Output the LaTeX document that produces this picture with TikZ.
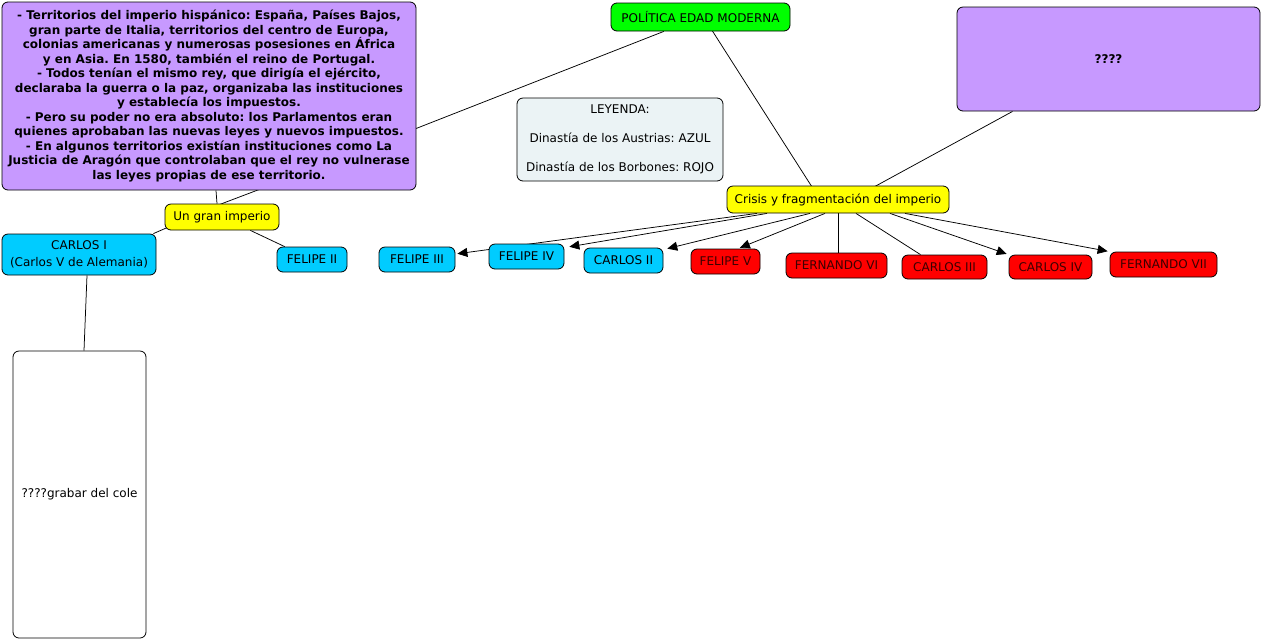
\documentclass[tikz,border=0pt]{standalone}
\usepackage{fontspec}
\setmainfont{DejaVu Sans}
\usetikzlibrary{arrows.meta,backgrounds}
\frenchspacing

\definecolor{lila}{HTML}{C799FF}
\definecolor{verde}{HTML}{00FF00}
\definecolor{amarillo}{HTML}{FFFF00}
\definecolor{azul}{HTML}{00CCFF}
\definecolor{rojo}{HTML}{FF0000}
\definecolor{textorojo}{HTML}{3C0000}
\definecolor{leyenda}{HTML}{EBF3F5}

\begin{document}
\begin{tikzpicture}[x=1pt, y=-1pt,
    concept/.style={draw, rounded corners=6pt, line width=0.8pt, inner sep=0pt,
        align=center, font=\fontsize{12}{14.5}\selectfont},
    austria/.style={concept, fill=azul, minimum height=25pt},
    borbon/.style={concept, fill=rojo, text=textorojo, minimum height=25pt},
    link/.style={line width=0.75pt},
    flecha/.style={link, -{Triangle[length=10pt,width=9pt]}, shorten >=2pt}]
    \useasboundingbox (0,0) rectangle (1262,641);

    % conceptos principales
    \node[concept, fill=verde, minimum width=179pt, minimum height=28pt] (pol) at (700.5,17) {POLÍTICA EDAD MODERNA};
    \node[concept, fill=lila, minimum width=414pt, minimum height=188pt, font=\fontsize{12}{14.5}\selectfont\bfseries] (imperio) at (209,96)
        {- Territorios del imperio hispánico: España, Países Bajos,\\
         gran parte de Italia, territorios del centro de Europa,\\
         colonias americanas y numerosas posesiones en África\\
         y en Asia. En 1580, también el reino de Portugal.\\
         - Todos tenían el mismo rey, que dirigía el ejército,\\
         declaraba la guerra o la paz, organizaba las instituciones\\
         y establecía los impuestos.\\
         - Pero su poder no era absoluto: los Parlamentos eran\\
         quienes aprobaban las nuevas leyes y nuevos impuestos.\\
         - En algunos territorios existían instituciones como La\\
         Justicia de Aragón que controlaban que el rey no vulnerase\\
         las leyes propias de ese territorio.};
    \node[concept, fill=leyenda, minimum width=206pt, minimum height=83pt] (leyenda) at (620,139.5)
        {LEYENDA:\\[14.5pt] Dinastía de los Austrias: AZUL\\[14.5pt] Dinastía de los Borbones: ROJO};
    \node[concept, fill=lila, minimum width=303pt, minimum height=104pt, font=\fontsize{12}{14.5}\selectfont\bfseries] (dudas) at (1108.5,59) {????};
    \node[concept, fill=amarillo, minimum width=222pt, minimum height=27pt] (crisis) at (838,199.5) {Crisis y fragmentación del imperio};
    \node[concept, fill=amarillo, minimum width=114pt, minimum height=26pt] (gran) at (222,217) {Un gran imperio};
    \node[concept, fill=white, minimum width=133pt, minimum height=287pt] (cole) at (79.5,494.5) {????grabar del cole};

    % reyes
    \node[austria, minimum width=154pt, minimum height=41pt, font=\fontsize{12}{16.5}\selectfont] (carlos1) at (79,254.5) {CARLOS I\\(Carlos V de Alemania)};
    \node[austria, minimum width=70pt] (felipe2) at (312,259.5) {FELIPE II};
    \node[austria, minimum width=76pt] (felipe3) at (417,259.5) {FELIPE III};
    \node[austria, minimum width=75pt] (felipe4) at (526.5,256.5) {FELIPE IV};
    \node[austria, minimum width=79pt] (carlos2) at (623.5,260.5) {CARLOS II};
    \node[borbon, minimum width=69pt] (felipe5) at (725.5,261.5) {FELIPE V};
    \node[borbon, minimum width=101pt] (fernando6) at (836.5,265.5) {FERNANDO VI};
    \node[borbon, minimum width=85pt, minimum height=24pt] (carlos3) at (944.5,267) {CARLOS III};
    \node[borbon, minimum width=83pt, minimum height=24pt] (carlos4) at (1050.5,267) {CARLOS IV};
    \node[borbon, minimum width=107pt] (fernando7) at (1163.5,264.5) {FERNANDO VII};

    \coordinate (enlace) at (300,174);

    % conexiones
    \begin{scope}[on background layer]
        \draw[link] (pol) -- (enlace) -- (gran.north);
        \draw[link] ([xshift=7pt]imperio.south) -- ([xshift=-5pt]gran.north);
        \draw[link] (gran.north) -- ([xshift=-3pt]carlos1.north east);
        \draw[link] (gran) -- (felipe2);
        \draw[link] ([xshift=8pt]carlos1.south) -- ([xshift=4.5pt]cole.north);
        \draw[link] ([xshift=3pt]pol.center) -- ([xshift=-18pt]crisis.center);
        \draw[link] (dudas) -- ([xshift=13pt]crisis.center);
        \draw[flecha] ([xshift=-81pt]crisis.south) -- ([yshift=5.5pt]felipe3.east);
        \draw[flecha, shorten >=5pt] ([xshift=-71pt]crisis.south) -- ([yshift=-4pt]felipe4.north east);
        \draw[flecha, shorten >=4pt] ([xshift=-28pt]crisis.south) -- ([yshift=-2pt]carlos2.north east);
        \draw[flecha] ([xshift=-13pt]crisis.south) -- ([xshift=12.5pt]felipe5.north);
        \draw[link] (crisis.south) -- ([xshift=1.5pt]fernando6.north);
        \draw[link] ([xshift=18pt]crisis.south) -- ([xshift=-24pt]carlos3.north);
        \draw[flecha] ([xshift=52pt]crisis.south) -- (carlos4.north west);
        \draw[flecha] ([xshift=67pt]crisis.south) -- (fernando7.north west);
    \end{scope}
\end{tikzpicture}
\end{document}
